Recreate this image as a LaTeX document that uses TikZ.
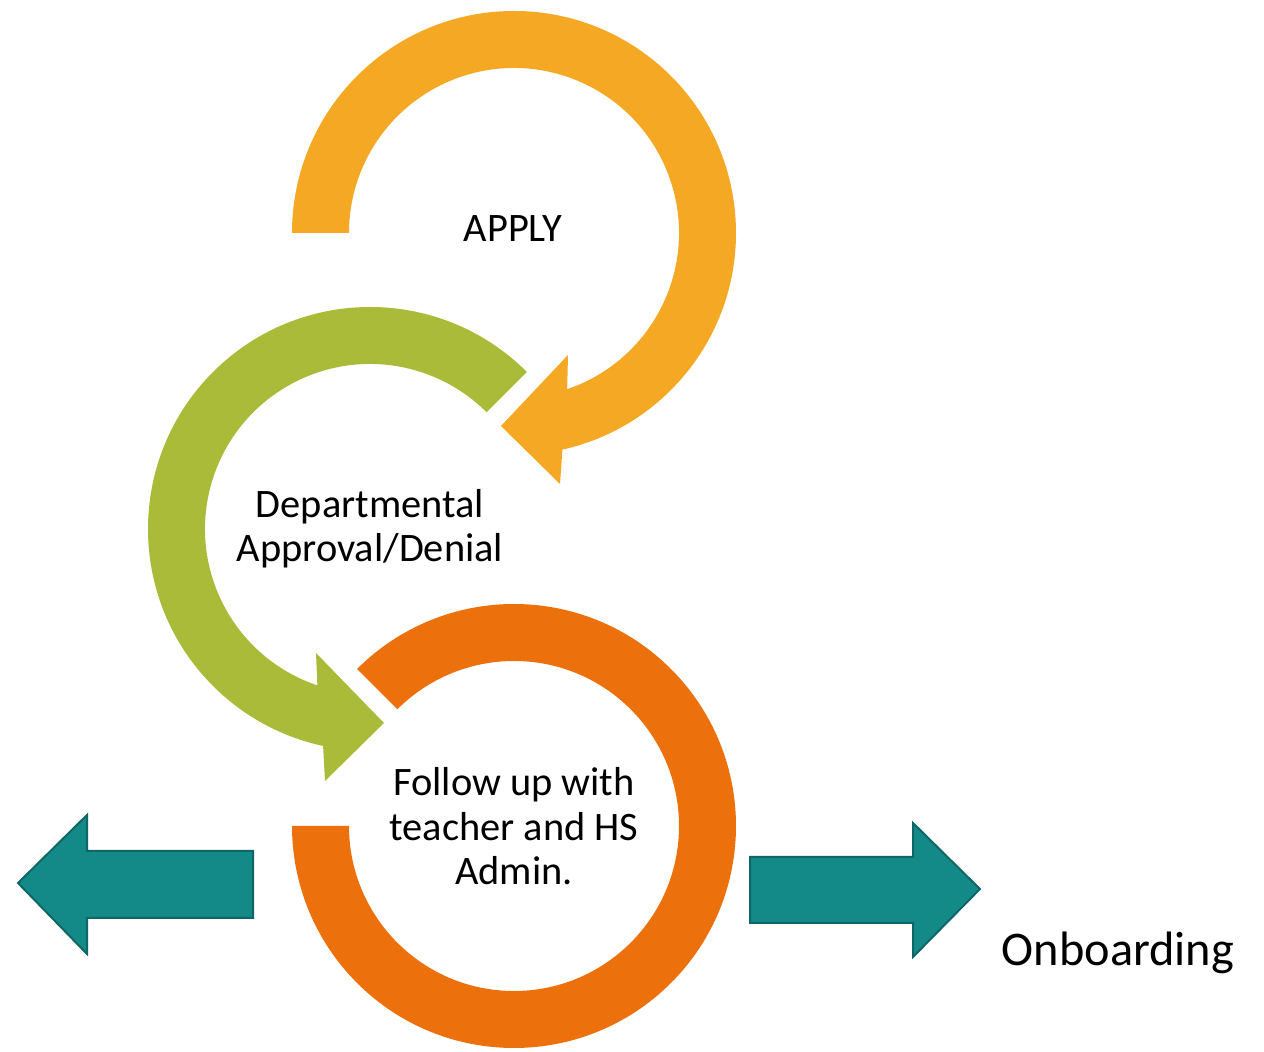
\documentclass[tikz,border=0pt]{standalone}
\usepackage{fontspec}
\setmainfont{Carlito}
\usepackage{tikz}
\usetikzlibrary{calc}
\usepackage{xcolor}
\definecolor{applyfill}{HTML}{F5A823}
\definecolor{approvefill}{HTML}{AABB3A}
\definecolor{followfill}{HTML}{EC700C}
\definecolor{tealfill}{HTML}{148A88}
\definecolor{tealedge}{HTML}{0E6766}
\tikzset{
  ring/.style     = {draw=none},
  bigarrow/.style = {fill=tealfill, draw=tealedge, line width=0.4mm, line join=miter},
  steptext/.style = {align=center, inner sep=0pt, font=\fontsize{23}{25.6}\selectfont}
}

\begin{document}
\begin{tikzpicture}[x=0.2mm, y=0.2mm]
\useasboundingbox (0,0) rectangle (1264,1052);
\coordinate (c1) at (514,819);
\coordinate (c2) at (370,523);
\coordinate (c3) at (514,226);
% APPLY ring
\fill[ring, applyfill] ($(c1)+(180:165)$) -- ($(c1)+(180:222)$)
  arc[start angle=180, end angle=-77.4, radius=222]
  -- (560,568) -- (501,626) -- (568,697) -- ($(c1)+(-71.2:165)$)
  arc[start angle=-71.2, end angle=180, radius=165] -- cycle;
% approval ring
\fill[ring, approvefill] ($(c2)+(45:165)$) -- ($(c2)+(45:222)$)
  arc[start angle=45, end angle=257.8, radius=222]
  -- (325,271) -- (384,329) -- (316,399) -- ($(c2)+(251.4:165)$)
  arc[start angle=251.4, end angle=45, radius=165] -- cycle;
% follow-up ring
\fill[ring, followfill] ($(c3)+(135:165)$) -- ($(c3)+(135:222)$)
  arc[start angle=135, end angle=-180, radius=222]
  -- ($(c3)+(180:165)$)
  arc[start angle=-180, end angle=135, radius=165] -- cycle;
% side arrows
\draw[bigarrow] (18,169) -- (87,237) -- (87,201) -- (253,201) -- (253,134)
  -- (87,134) -- (87,98) -- cycle;
\draw[bigarrow] (750,195) -- (913,195) -- (913,229) -- (980,163) -- (913,95)
  -- (913,129) -- (750,129) -- cycle;
% base sits on the last line
\node[steptext, anchor=base] (apply) at (513,810) {APPLY};
\node[steptext, anchor=base] (approve) at (370,490) {Departmental\\Approval/Denial};
\node[steptext, anchor=base] (follow) at (514,167) {Follow up with\\teacher and HS\\Admin.};
\node[steptext, anchor=base, font=\fontsize{27.5}{30}\selectfont] (onboard) at (1118,86) {Onboarding};
\end{tikzpicture}
\end{document}
